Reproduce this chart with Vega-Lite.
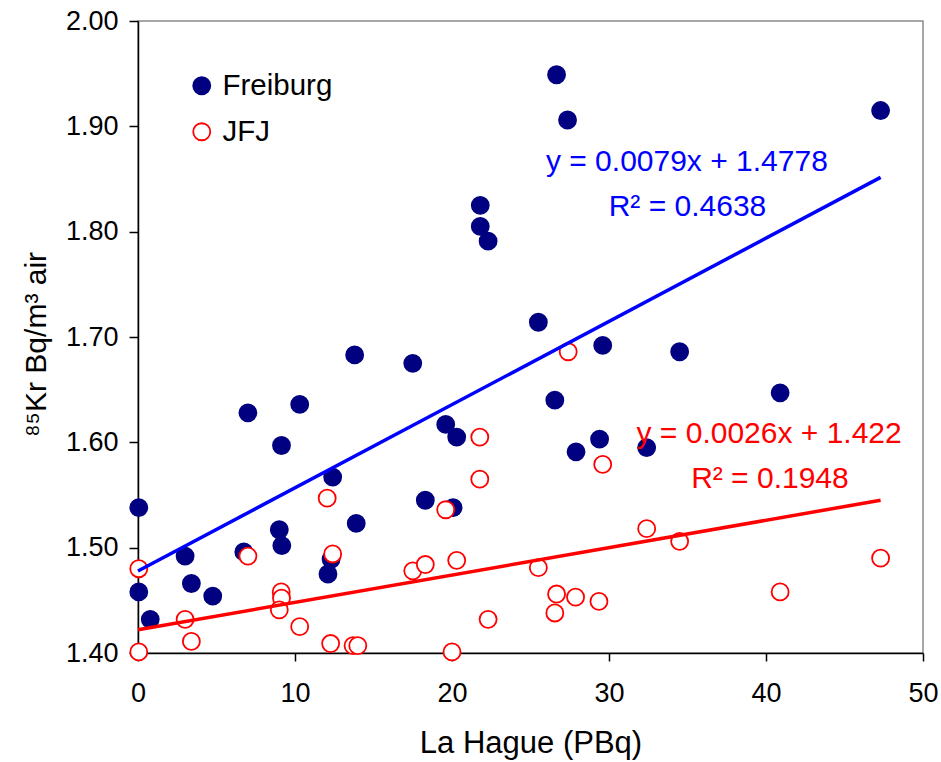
{
  "$schema": "https://vega.github.io/schema/vega-lite/v6.json",
  "width": 785,
  "height": 632,
  "autosize": {"type": "none"},
  "padding": {"left": 138, "top": 21, "right": 18, "bottom": 109},
  "background": "white",
  "config": {
    "font": "Liberation Sans",
    "view": {"stroke": "#8c8c8c", "strokeWidth": 1.5},
    "axis": {
      "grid": false,
      "domainColor": "#000000",
      "domainWidth": 1.5,
      "tickColor": "#000000",
      "tickWidth": 1.5,
      "labelFont": "Liberation Sans",
      "labelFontSize": 27,
      "labelColor": "#000000",
      "labelFlush": false,
      "titleFont": "Liberation Sans",
      "titleFontWeight": "normal",
      "titleColor": "#000000"
    }
  },
  "datasets": {
    "obs": [
      {"site": "Freiburg", "hague": 0.05, "kr85": 1.538},
      {"site": "Freiburg", "hague": 0.05, "kr85": 1.458},
      {"site": "Freiburg", "hague": 0.78, "kr85": 1.432},
      {"site": "Freiburg", "hague": 3.0, "kr85": 1.492},
      {"site": "Freiburg", "hague": 3.4, "kr85": 1.466},
      {"site": "Freiburg", "hague": 4.76, "kr85": 1.454},
      {"site": "Freiburg", "hague": 6.74, "kr85": 1.496},
      {"site": "Freiburg", "hague": 7.0, "kr85": 1.628},
      {"site": "Freiburg", "hague": 9.0, "kr85": 1.517},
      {"site": "Freiburg", "hague": 9.16, "kr85": 1.502},
      {"site": "Freiburg", "hague": 9.14, "kr85": 1.597},
      {"site": "Freiburg", "hague": 10.3, "kr85": 1.636},
      {"site": "Freiburg", "hague": 12.1, "kr85": 1.475},
      {"site": "Freiburg", "hague": 12.3, "kr85": 1.489},
      {"site": "Freiburg", "hague": 12.4, "kr85": 1.567},
      {"site": "Freiburg", "hague": 13.8, "kr85": 1.683},
      {"site": "Freiburg", "hague": 13.9, "kr85": 1.523},
      {"site": "Freiburg", "hague": 17.5, "kr85": 1.675},
      {"site": "Freiburg", "hague": 18.3, "kr85": 1.545},
      {"site": "Freiburg", "hague": 19.6, "kr85": 1.617},
      {"site": "Freiburg", "hague": 20.07, "kr85": 1.538},
      {"site": "Freiburg", "hague": 20.3, "kr85": 1.605},
      {"site": "Freiburg", "hague": 21.8, "kr85": 1.825},
      {"site": "Freiburg", "hague": 21.8, "kr85": 1.805},
      {"site": "Freiburg", "hague": 22.3, "kr85": 1.791},
      {"site": "Freiburg", "hague": 25.5, "kr85": 1.714},
      {"site": "Freiburg", "hague": 26.55, "kr85": 1.64},
      {"site": "Freiburg", "hague": 26.66, "kr85": 1.949},
      {"site": "Freiburg", "hague": 27.36, "kr85": 1.906},
      {"site": "Freiburg", "hague": 27.9, "kr85": 1.591},
      {"site": "Freiburg", "hague": 29.4, "kr85": 1.603},
      {"site": "Freiburg", "hague": 29.6, "kr85": 1.692},
      {"site": "Freiburg", "hague": 32.4, "kr85": 1.595},
      {"site": "Freiburg", "hague": 34.5, "kr85": 1.686},
      {"site": "Freiburg", "hague": 40.9, "kr85": 1.647},
      {"site": "Freiburg", "hague": 47.3, "kr85": 1.915},
      {"site": "JFJ", "hague": 0.05, "kr85": 1.48},
      {"site": "JFJ", "hague": 0.05, "kr85": 1.401},
      {"site": "JFJ", "hague": 3.0, "kr85": 1.432},
      {"site": "JFJ", "hague": 3.4, "kr85": 1.411},
      {"site": "JFJ", "hague": 7.0, "kr85": 1.492},
      {"site": "JFJ", "hague": 9.12, "kr85": 1.458},
      {"site": "JFJ", "hague": 9.14, "kr85": 1.452},
      {"site": "JFJ", "hague": 9.0, "kr85": 1.441},
      {"site": "JFJ", "hague": 10.3, "kr85": 1.425},
      {"site": "JFJ", "hague": 12.05, "kr85": 1.547},
      {"site": "JFJ", "hague": 12.27, "kr85": 1.409},
      {"site": "JFJ", "hague": 12.4, "kr85": 1.494},
      {"site": "JFJ", "hague": 13.7, "kr85": 1.407},
      {"site": "JFJ", "hague": 14.0, "kr85": 1.407},
      {"site": "JFJ", "hague": 17.5, "kr85": 1.478},
      {"site": "JFJ", "hague": 18.3, "kr85": 1.484},
      {"site": "JFJ", "hague": 19.6, "kr85": 1.536},
      {"site": "JFJ", "hague": 20.0, "kr85": 1.401},
      {"site": "JFJ", "hague": 20.3, "kr85": 1.488},
      {"site": "JFJ", "hague": 21.77, "kr85": 1.605},
      {"site": "JFJ", "hague": 21.77, "kr85": 1.565},
      {"site": "JFJ", "hague": 22.3, "kr85": 1.432},
      {"site": "JFJ", "hague": 25.5, "kr85": 1.481},
      {"site": "JFJ", "hague": 26.55, "kr85": 1.438},
      {"site": "JFJ", "hague": 26.66, "kr85": 1.456},
      {"site": "JFJ", "hague": 27.4, "kr85": 1.686},
      {"site": "JFJ", "hague": 27.87, "kr85": 1.453},
      {"site": "JFJ", "hague": 29.36, "kr85": 1.449},
      {"site": "JFJ", "hague": 29.6, "kr85": 1.579},
      {"site": "JFJ", "hague": 32.4, "kr85": 1.518},
      {"site": "JFJ", "hague": 34.5, "kr85": 1.506},
      {"site": "JFJ", "hague": 40.9, "kr85": 1.458},
      {"site": "JFJ", "hague": 47.3, "kr85": 1.49}
    ],
    "fits": [
      {"site": "Freiburg", "hague": 0, "kr85": 1.4778},
      {"site": "Freiburg", "hague": 47.3, "kr85": 1.8515},
      {"site": "JFJ", "hague": 0, "kr85": 1.422},
      {"site": "JFJ", "hague": 47.3, "kr85": 1.545}
    ],
    "notes": [
      {"site": "Freiburg", "hague": 34.96, "kr85": 1.866, "label": "y = 0.0079x + 1.4778"},
      {"site": "Freiburg", "hague": 35.0, "kr85": 1.823, "label": "R² = 0.4638"},
      {"site": "JFJ", "hague": 40.2, "kr85": 1.6077, "label": "y = 0.0026x + 1.422"},
      {"site": "JFJ", "hague": 40.25, "kr85": 1.565, "label": "R² = 0.1948"}
    ]
  },
  "encoding": {
    "x": {
      "field": "hague",
      "type": "quantitative",
      "scale": {"domain": [0, 50], "nice": false, "zero": false},
      "axis": {
        "values": [0, 10, 20, 30, 40, 50],
        "title": "La Hague (PBq)",
        "titleFontSize": 31,
        "tickSize": 8,
        "labelPadding": 19,
        "titleBaseline": "alphabetic",
        "titleY": 99
      }
    },
    "y": {
      "field": "kr85",
      "type": "quantitative",
      "scale": {"domain": [1.4, 2.0], "nice": false, "zero": false},
      "axis": {
        "values": [1.4, 1.5, 1.6, 1.7, 1.8, 1.9, 2.0],
        "format": ".2f",
        "title": "⁸⁵Kr Bq/m³ air",
        "titleFontSize": 30,
        "tickSize": 9,
        "labelPadding": 11,
        "titleAngle": -90,
        "titleAlign": "center",
        "titleBaseline": "alphabetic",
        "titleX": -93,
        "titleY": 323
      }
    }
  },
  "layer": [
    {
      "data": {"name": "obs"},
      "mark": {"type": "point", "shape": "circle", "filled": true, "size": 290, "strokeWidth": 1.8, "opacity": 1},
      "encoding": {
        "fill": {
          "field": "site",
          "type": "nominal",
          "scale": {"domain": ["Freiburg", "JFJ"], "range": ["#000080", "#ffffff"]},
          "legend": {"orient": "none", "legendX": 49, "legendY": 50, "title": null, "labelFontSize": 29.5, "labelFont": "Liberation Sans", "labelColor": "#000000", "symbolType": "circle", "symbolSize": 290, "symbolStrokeWidth": 1.8, "rowPadding": 15, "labelOffset": 6}
        },
        "stroke": {
          "field": "site",
          "type": "nominal",
          "scale": {"domain": ["Freiburg", "JFJ"], "range": ["#000080", "#ff0000"]},
          "legend": {"orient": "none", "legendX": 49, "legendY": 50, "title": null, "labelFontSize": 29.5, "labelFont": "Liberation Sans", "labelColor": "#000000", "symbolType": "circle", "symbolSize": 290, "symbolStrokeWidth": 1.8, "rowPadding": 15, "labelOffset": 6}
        }
      }
    },
    {
      "data": {"name": "fits"},
      "transform": [{"filter": "datum.site === 'Freiburg'"}],
      "mark": {"type": "line", "color": "#0000ff", "strokeWidth": 3.5},
      "encoding": {}
    },
    {
      "data": {"name": "fits"},
      "transform": [{"filter": "datum.site === 'JFJ'"}],
      "mark": {"type": "line", "color": "#ff0000", "strokeWidth": 3.5},
      "encoding": {}
    },
    {
      "data": {"name": "notes"},
      "transform": [{"filter": "datum.site === 'Freiburg'"}],
      "mark": {"type": "text", "color": "#0000ff", "fontSize": 30, "font": "Liberation Sans", "align": "center", "baseline": "middle"},
      "encoding": {"text": {"field": "label"}}
    },
    {
      "data": {"name": "notes"},
      "transform": [{"filter": "datum.site === 'JFJ'"}],
      "mark": {"type": "text", "color": "#ff0000", "fontSize": 30, "font": "Liberation Sans", "align": "center", "baseline": "middle"},
      "encoding": {"text": {"field": "label"}}
    }
  ]
}
